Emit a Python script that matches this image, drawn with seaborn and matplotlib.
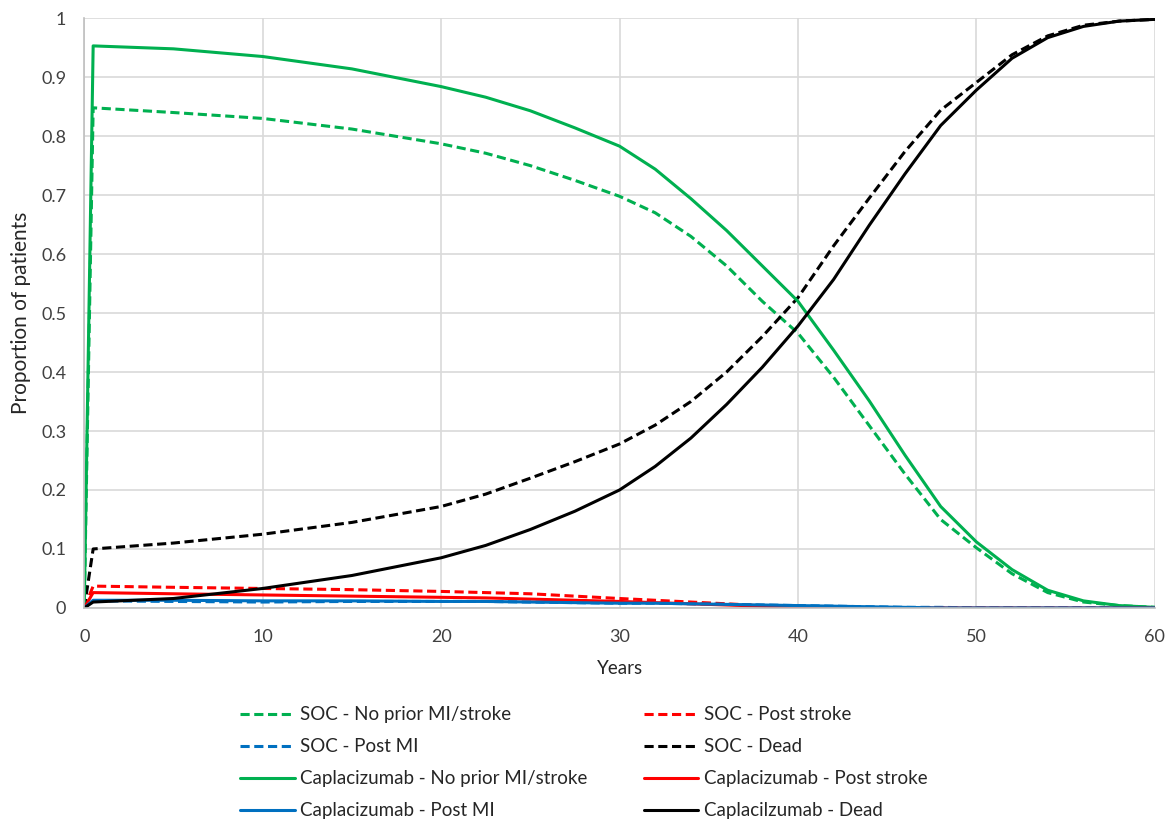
import matplotlib
matplotlib.use("Agg")
import matplotlib.pyplot as plt
import seaborn as sns
from matplotlib.ticker import FuncFormatter

# data
years = [0, 0.5, 5, 10, 15, 20, 22.5, 25, 27.5, 30, 32, 34, 36, 38, 40, 42, 44, 46, 48, 50,
         52, 54, 56, 58, 60]

soc_no_prior = [0, 0.848, 0.84, 0.83, 0.812, 0.787, 0.771, 0.75, 0.725, 0.698, 0.67, 0.63, 0.58,
                0.52, 0.466, 0.391, 0.309, 0.227, 0.15, 0.102, 0.058, 0.026, 0.01, 0.004, 0.001]
soc_post_stroke = [0, 0.037, 0.035, 0.033, 0.031, 0.028, 0.026, 0.024, 0.020, 0.016, 0.013, 0.010,
                   0.007, 0.004, 0.001, 0, 0, 0, 0, 0, 0, 0, 0, 0, 0]
soc_post_mi = [0, 0.012, 0.011, 0.010, 0.011, 0.011, 0.011, 0.010, 0.009, 0.008, 0.008, 0.007,
               0.006, 0.005, 0.004, 0.003, 0.002, 0.001, 0.001, 0, 0, 0, 0, 0, 0]
soc_dead = [0, 0.10, 0.11, 0.125, 0.145, 0.172, 0.193, 0.22, 0.248, 0.278, 0.31, 0.35, 0.40, 0.46,
            0.526, 0.614, 0.695, 0.774, 0.844, 0.891, 0.938, 0.97, 0.988, 0.995, 0.998]

cap_no_prior = [0, 0.953, 0.948, 0.935, 0.914, 0.884, 0.866, 0.843, 0.814, 0.783, 0.744, 0.694,
                0.64, 0.58, 0.52, 0.437, 0.351, 0.259, 0.172, 0.112, 0.065, 0.03, 0.012, 0.004,
                0.001]
cap_post_stroke = [0, 0.026, 0.024, 0.022, 0.020, 0.018, 0.017, 0.015, 0.013, 0.011, 0.009, 0.007,
                   0.005, 0.003, 0.001, 0, 0, 0, 0, 0, 0, 0, 0, 0, 0]
cap_post_mi = [0, 0.013, 0.013, 0.012, 0.012, 0.011, 0.011, 0.010, 0.009, 0.008, 0.008, 0.007,
               0.006, 0.005, 0.004, 0.003, 0.002, 0.001, 0, 0, 0, 0, 0, 0, 0]
cap_dead = [0, 0.01, 0.016, 0.033, 0.055, 0.085, 0.106, 0.133, 0.164, 0.20, 0.24, 0.288, 0.345,
            0.408, 0.478, 0.557, 0.649, 0.736, 0.818, 0.878, 0.932, 0.967, 0.986, 0.995, 0.998]

GREEN, RED, BLUE, BLACK = "#00b050", "#ff0000", "#0070c0", "#000000"

series = [
    ("SOC - No prior MI/stroke", soc_no_prior, GREEN, True),
    ("SOC - Post stroke", soc_post_stroke, RED, True),
    ("SOC - Post MI", soc_post_mi, BLUE, True),
    ("SOC - Dead", soc_dead, BLACK, True),
    ("Caplacizumab - No prior MI/stroke", cap_no_prior, GREEN, False),
    ("Caplacizumab - Post stroke", cap_post_stroke, RED, False),
    ("Caplacizumab - Post MI", cap_post_mi, BLUE, False),
    ("Caplacilzumab - Dead", cap_dead, BLACK, False),
]

sns.set_style("white")
plt.rcParams['font.family'] = ['Lato', 'DejaVu Sans']

fig = plt.figure(figsize=(11.7, 8.26), dpi=100)
ax = fig.add_axes([0.072, 0.264, 0.915, 0.714])

lines = {}
for label, vals, color, dashed in series:
    sns.lineplot(x=years, y=vals, ax=ax, color=color, linewidth=2.2, label=label)
    ln = ax.get_lines()[-1]
    if dashed:
        ln.set_dashes((3.0, 1.5))
    lines[label] = ln

ax.set_xlim(0, 60)
ax.set_ylim(0, 1)
ax.set_xticks(range(0, 61, 10))
ax.set_yticks([i / 10 for i in range(11)])
ax.yaxis.set_major_formatter(FuncFormatter(lambda v, p: f"{v:g}"))
ax.grid(True, color="#d9d9d9", linewidth=1.2)
ax.set_axisbelow(True)
for s in ["top", "right"]:
    ax.spines[s].set_visible(False)
for s in ["left", "bottom"]:
    ax.spines[s].set_color("#bfbfbf")
    ax.spines[s].set_linewidth(1.2)
ax.tick_params(labelsize=13, colors="#404040", length=0)
ax.tick_params(axis="x", pad=15)
ax.tick_params(axis="y", pad=13)
ax.set_xlabel("Years", fontsize=13.5, labelpad=11, color="#262626")
ax.set_ylabel("Proportion of patients", fontsize=15, labelpad=7, color="#262626")

# legend: column-major order
order = ["SOC - No prior MI/stroke", "SOC - Post MI", "Caplacizumab - No prior MI/stroke",
         "Caplacizumab - Post MI", "SOC - Post stroke", "SOC - Dead",
         "Caplacizumab - Post stroke", "Caplacilzumab - Dead"]
leg = ax.legend([lines[k] for k in order], order, ncol=2, loc="upper left",
                bbox_to_anchor=(0.13, -0.138), frameon=False, fontsize=13.5,
                handlelength=2.9, handletextpad=0.3, columnspacing=3.0, labelspacing=0.8)
for t in leg.get_texts():
    t.set_color("#262626")

fig.savefig("out.png", dpi=100)
